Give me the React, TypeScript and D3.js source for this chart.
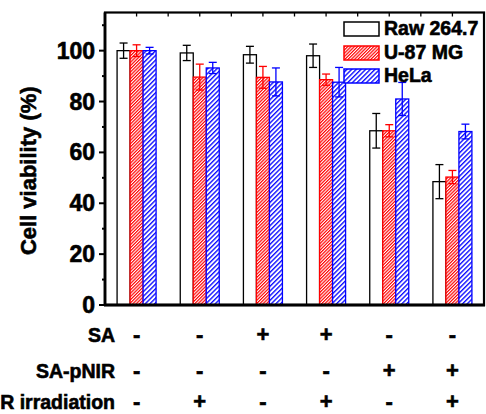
import React from 'react';
import * as d3 from 'd3';

const groups = ['G1', 'G2', 'G3', 'G4', 'G5', 'G6'];
const series = ['Raw 264.7', 'U-87 MG', 'HeLa'];
const rawMean = [100, 99.1, 98.4, 98, 68.5, 48.5];
const rawErr = [3, 3, 3.3, 4.6, 6.8, 6.7];
const u87Mean = [100, 89.6, 89.5, 88.6, 68.5, 50.3];
const u87Err = [2.3, 5.1, 4.3, 2.2, 2.4, 2.6];
const helaMean = [100, 93.2, 87.7, 87.6, 81, 68.2];
const helaErr = [1.3, 2.2, 5.5, 5.8, 6.5, 2.9];
const saRow = ['-', '-', '+', '+', '-', '-'];
const sapnirRow = ['-', '-', '-', '-', '+', '+'];
const nirRow = ['-', '+', '-', '+', '-', '+'];
const rowLabels = ['SA', 'SA-pNIR', 'NIR irradiation'];
const yTicks = [0, 20, 40, 60, 80, 100];
const yMinorTicks = [10, 30, 50, 70, 90, 110];
const yTitle = 'Cell viability (%)';

const W = 486;
const H = 414;
const L = 105;
const R = 484;
const T = 12.5;
const B = 305;
const FONT = '"Liberation Sans", Arial, Helvetica, sans-serif';

const colors = ['#000000', '#ff0000', '#0000ff'];
const fills = ['#ffffff', 'url(#hatchRed)', 'url(#hatchBlue)'];
const means = [rawMean, u87Mean, helaMean];
const errs = [rawErr, u87Err, helaErr];

export default function App() {
  const x = d3.scaleBand<string>().domain(groups).range([L, R]).padding(0);
  const bw = x.bandwidth();
  const groupW = 39;
  const xs = d3.scaleBand<string>().domain(series).range([-groupW / 2, groupW / 2]).padding(0);
  const y = d3.scaleLinear().domain([0, 115]).range([B, T]);

  const topTicks: number[] = [];
  groups.forEach((g, i) => {
    topTicks.push((x(g) as number) + bw / 2);
    if (i > 0) topTicks.push(x(g) as number);
  });

  const rows = [saRow, sapnirRow, nirRow];
  const rowY = [342, 378, 409];

  return (
    <svg width={W} height={H} style={{ position: 'absolute', left: 0, top: 0, background: '#fff' }}
      fontFamily={FONT} fontWeight="bold">
      <defs>
        <pattern id="hatchRed" patternUnits="userSpaceOnUse" width={2.3} height={10} patternTransform="rotate(45)">
          <rect width={2.3} height={10} fill="#fff" />
          <line x1={0.6} y1={0} x2={0.6} y2={10} stroke="#ff0000" strokeWidth={1.2} />
        </pattern>
        <pattern id="hatchBlue" patternUnits="userSpaceOnUse" width={3.3} height={10} patternTransform="rotate(45)">
          <rect width={3.3} height={10} fill="#fff" />
          <line x1={0.7} y1={0} x2={0.7} y2={10} stroke="#0000ff" strokeWidth={1.3} />
        </pattern>
      </defs>
      <rect x={0} y={0} width={W} height={H} fill="#fff" />

      {/* bars */}
      {groups.map((g, gi) => {
        const cx = (x(g) as number) + bw / 2;
        return series.map((s, si) => {
          const bx = cx + (xs(s) as number);
          const v = means[si][gi];
          return (
            <rect key={g + s} x={bx} y={y(v)} width={xs.bandwidth()} height={B - y(v)}
              fill={fills[si]} stroke={colors[si]} strokeWidth={1.3} />
          );
        });
      })}

      {/* error bars */}
      {groups.map((g, gi) => {
        const cx = (x(g) as number) + bw / 2;
        return series.map((s, si) => {
          const ex = cx + (xs(s) as number) + xs.bandwidth() / 2;
          const v = means[si][gi];
          const e = errs[si][gi];
          return (
            <g key={'e' + g + s} stroke={colors[si]} strokeWidth={1.3}>
              <line x1={ex} x2={ex} y1={y(v + e)} y2={y(v - e)} />
              <line x1={ex - 4} x2={ex + 4} y1={y(v + e)} y2={y(v + e)} />
              <line x1={ex - 4} x2={ex + 4} y1={y(v - e)} y2={y(v - e)} />
            </g>
          );
        });
      })}

      {/* frame */}
      <rect x={L} y={T} width={R - L} height={B - T} fill="none" stroke="#000" strokeWidth={2.2} />
      <line x1={L} x2={L} y1={T} y2={B + 1} stroke="#000" strokeWidth={2.8} />
      <line x1={L - 1} x2={R + 1} y1={B} y2={B} stroke="#000" strokeWidth={2.8} />

      <g stroke="#000" strokeWidth={0.6}>
        {/* y ticks */}
        {yTicks.map(t => (
          <g key={'yt' + t}>
            <line x1={L - 6} x2={L} y1={y(t)} y2={y(t)} stroke="#000" strokeWidth={2} />
            <text x={95} y={y(t)} dy="0.35em" textAnchor="end" fontSize={23}>{t}</text>
          </g>
        ))}

        {/* y title */}
        <text transform={`translate(36,${(T + B) / 2 + 12}) rotate(-90)`} textAnchor="middle" fontSize={22}>{yTitle}</text>

        {/* legend text */}
        {series.map((s, si) => (
          <text key={'lt' + s} x={384} y={[35, 59, 82][si]} fontSize={19.5}>{s}</text>
        ))}

        {/* condition table */}
        {rowLabels.map((lab, ri) => (
          <text key={'rl' + ri} x={115} y={rowY[ri]} textAnchor="end" fontSize={19.5}>{lab}</text>
        ))}
        {rows.map((row, ri) =>
          row.map((sym, gi) => (
            <text key={'s' + ri + gi} x={(x(groups[gi]) as number) + bw / 2} y={rowY[ri]}
              textAnchor="middle" fontSize={22}>{sym}</text>
          ))
        )}
      </g>

      {yMinorTicks.map(t => (
        <line key={'ym' + t} x1={L - 3} x2={L} y1={y(t)} y2={y(t)} stroke="#000" strokeWidth={2} />
      ))}
      {topTicks.map((t, i) => (
        <line key={'tt' + i} x1={t} x2={t} y1={T} y2={T + 4} stroke="#000" strokeWidth={1.3} />
      ))}

      {/* legend boxes */}
      {series.map((s, si) => {
        const by = [35, 59, 82][si];
        return (
          <rect key={'lg' + s} x={344} y={by - 13} width={35} height={14} fill={fills[si]} stroke={colors[si]} strokeWidth={1.5} />
        );
      })}
    </svg>
  );
}
